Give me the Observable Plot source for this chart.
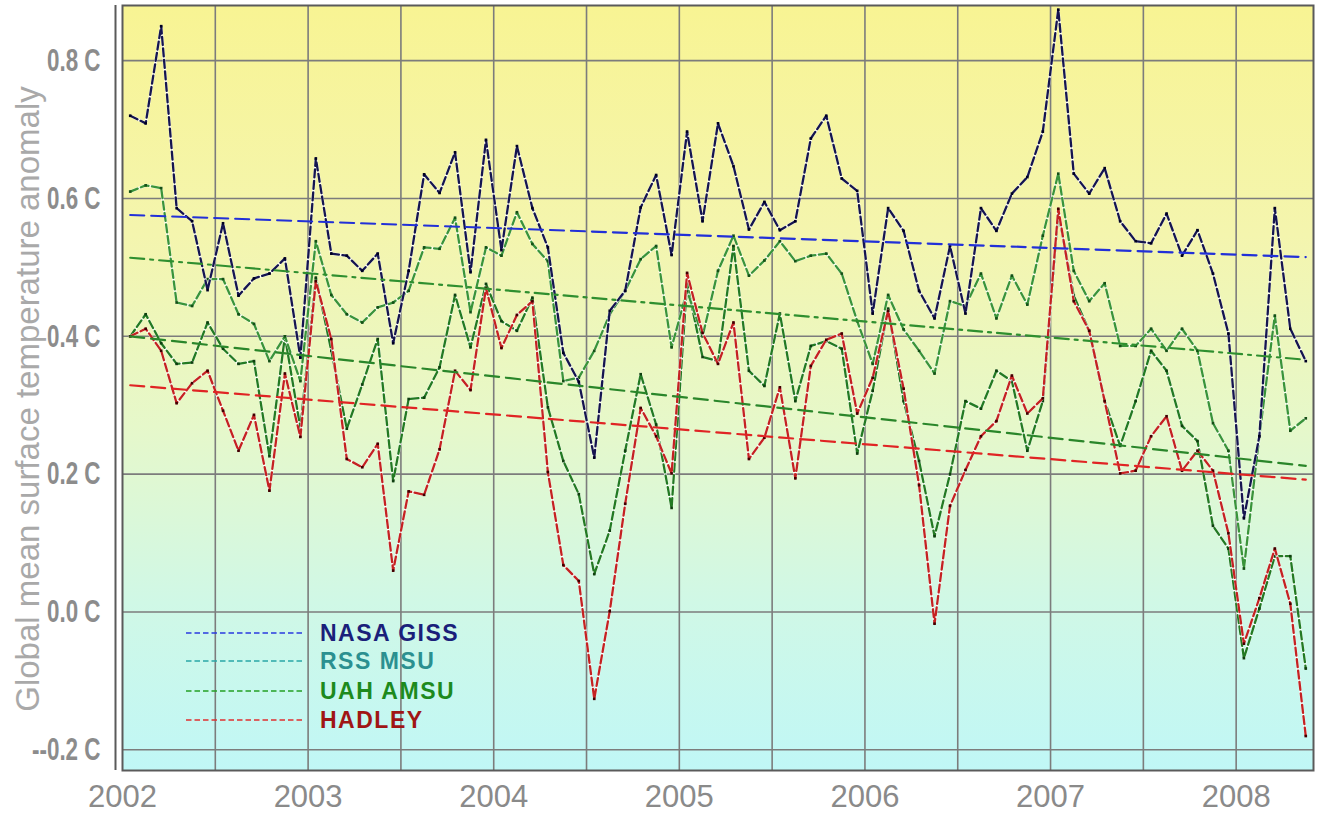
<!DOCTYPE html>
<html><head><meta charset="utf-8">
<script src="https://cdn.jsdelivr.net/npm/d3@7"></script>
<script src="https://cdn.jsdelivr.net/npm/@observablehq/plot@0.6"></script>
<style>
html,body{margin:0;padding:0;background:#fff;}
#wrap{position:relative;width:1318px;height:814px;overflow:hidden;}
#ytitle{position:absolute;left:28px;top:399px;transform:translate(-50%,-50%) rotate(-90deg);font:33px "Liberation Sans",Arial,sans-serif;color:#a9a9a9;white-space:nowrap;}
#legend{position:absolute;left:0;top:0;}
</style></head><body><div id="wrap"><div id="ytitle">Global mean surface temperature anomaly</div></div>
<script>
// Monthly anomalies, Jan 2002 – May 2008 (77 months)
const nasaGiss = [0.72,0.709,0.85,0.586,0.567,0.467,0.564,0.459,0.484,0.491,0.513,0.369,
  0.658,0.52,0.517,0.495,0.52,0.39,0.495,0.635,0.608,0.667,0.493,0.685,
  0.525,0.676,0.586,0.529,0.376,0.334,0.224,0.437,0.466,0.587,0.634,0.518,
  0.697,0.567,0.709,0.647,0.555,0.595,0.554,0.567,0.687,0.72,0.629,0.611,
  0.433,0.586,0.553,0.466,0.426,0.531,0.433,0.586,0.553,0.607,0.631,0.697,
  0.874,0.636,0.607,0.644,0.567,0.538,0.535,0.578,0.517,0.554,0.491,0.404,
  0.136,0.255,0.586,0.411,0.364];
const rssMsu = [0.61,0.619,0.615,0.449,0.444,0.483,0.483,0.432,0.418,0.364,0.40,0.335,
  0.538,0.46,0.432,0.42,0.442,0.449,0.466,0.529,0.527,0.572,0.435,0.529,
  0.517,0.58,0.534,0.509,0.335,0.34,0.379,0.432,0.466,0.512,0.531,0.384,
  0.466,0.40,0.495,0.546,0.488,0.51,0.538,0.509,0.517,0.52,0.491,0.422,
  0.36,0.46,0.41,0.379,0.346,0.451,0.444,0.491,0.426,0.488,0.446,0.546,
  0.636,0.495,0.451,0.477,0.386,0.386,0.411,0.379,0.411,0.379,0.274,0.234,
  0.063,0.255,0.43,0.263,0.281];
const uahAmsu = [0.40,0.432,0.39,0.36,0.362,0.42,0.382,0.36,0.364,0.226,0.40,0.267,
  0.485,0.379,0.266,0.33,0.396,0.19,0.309,0.311,0.355,0.46,0.384,0.476,
  0.422,0.408,0.456,0.297,0.219,0.171,0.055,0.118,0.234,0.345,0.272,0.151,
  0.476,0.37,0.364,0.531,0.35,0.328,0.433,0.306,0.386,0.393,0.382,0.23,
  0.321,0.44,0.306,0.219,0.11,0.2,0.306,0.295,0.35,0.335,0.234,0.306,
  0.58,0.459,0.408,0.306,0.241,0.306,0.379,0.35,0.27,0.248,0.125,0.092,
  -0.067,0.005,0.081,0.081,-0.082];
const hadley = [0.40,0.411,0.379,0.303,0.332,0.35,0.292,0.234,0.286,0.176,0.346,0.254,
  0.48,0.396,0.222,0.21,0.244,0.06,0.175,0.17,0.236,0.35,0.322,0.47,
  0.383,0.431,0.451,0.203,0.068,0.045,-0.126,0.001,0.157,0.296,0.255,0.201,
  0.492,0.405,0.36,0.42,0.222,0.253,0.326,0.194,0.357,0.395,0.404,0.288,
  0.34,0.437,0.324,0.184,-0.017,0.154,0.206,0.255,0.277,0.343,0.288,0.31,
  0.585,0.451,0.408,0.306,0.201,0.205,0.255,0.284,0.205,0.234,0.205,0.114,
  -0.046,0.02,0.092,0.012,-0.18];

// Linear trend end points (first month, last month)
const trendNasa = [0.576, 0.515];
const trendRss = [0.514, 0.366];
const trendUah = [0.40, 0.212];
const trendHadley = [0.329, 0.192];

const seriesNames = ["NASA GISS", "RSS MSU", "UAH AMSU", "HADLEY"];
const yearTicks = [2002, 2003, 2004, 2005, 2006, 2007, 2008];
const halfYearGrid = [2002.5, 2003, 2003.5, 2004, 2004.5, 2005, 2005.5, 2006, 2006.5, 2007, 2007.5, 2008];
const yTicks = [-0.2, 0, 0.2, 0.4, 0.6, 0.8];
const yLabels = ["--0.2 C", "0.0 C", "0.2 C", "0.4 C", "0.6 C", "0.8 C"];

const nMonths = nasaGiss.length;
const months = d3.range(nMonths).map(i => 2002 + (i + 0.5) / 12);
const xDomain = [2002, 2002 + nMonths / 12];

const styles = {
  "NASA GISS": {line: "#15154f", dot: "#000020", trend: "#2230d8", trendDash: "14,7", legendLine: "#2a3ae0", legendText: "#1b1f7a"},
  "RSS MSU":   {line: "#3a943a", dot: "#155015", trend: "#2f8f2f", trendDash: "14,6,3,6", legendLine: "#2aa6a6", legendText: "#2b9090"},
  "UAH AMSU":  {line: "#237a23", dot: "#0f3f0f", trend: "#2a862a", trendDash: "14,7", legendLine: "#25a025", legendText: "#1d8a1d"},
  "HADLEY":    {line: "#c42222", dot: "#400000", trend: "#e02424", trendDash: "14,7", legendLine: "#e03030", legendText: "#a01515"}
};
const values = {"NASA GISS": nasaGiss, "RSS MSU": rssMsu, "UAH AMSU": uahAmsu, "HADLEY": hadley};
const trends = {"NASA GISS": trendNasa, "RSS MSU": trendRss, "UAH AMSU": trendUah, "HADLEY": trendHadley};

const rows = name => values[name].map((v, i) => ({month: months[i], value: v}));
const trendRows = name => [{month: months[0], value: trends[name][0]}, {month: months[nMonths - 1], value: trends[name][1]}];

const drawOrder = ["UAH AMSU", "RSS MSU", "HADLEY", "NASA GISS"];
const seriesMarks = drawOrder.flatMap(name => [
  Plot.line(rows(name), {x: "month", y: "value", stroke: "#ffffff", strokeWidth: 2.8, strokeOpacity: 0.85}),
  Plot.line(rows(name), {x: "month", y: "value", stroke: styles[name].line, strokeWidth: 2.3, strokeDasharray: "8,3.5"}),
  Plot.dot(rows(name), {x: "month", y: "value", symbol: "square", r: 1.5, fill: styles[name].dot})
]);
const trendMarks = seriesNames.map(name =>
  Plot.line(trendRows(name), {x: "month", y: "value", stroke: styles[name].trend, strokeWidth: 2.2, strokeDasharray: styles[name].trendDash})
);

const chart = Plot.plot({
  width: 1318, height: 814,
  marginLeft: 122, marginRight: 5, marginTop: 5, marginBottom: 44,
  x: {domain: xDomain},
  y: {domain: [-0.23, 0.88]},
  style: {background: "#ffffff", overflow: "visible"},
  marks: [
    Plot.frame({fill: "url(#bg)"}),
    Plot.ruleX(halfYearGrid, {stroke: "#7c7c7c", strokeWidth: 1.6}),
    Plot.ruleY(yTicks, {stroke: "#7c7c7c", strokeWidth: 1.6}),
    ...seriesMarks,
    ...trendMarks,
    Plot.frame({stroke: "#5a5a5a", strokeWidth: 2}),
    Plot.ruleX([xDomain[0]], {dx: -7, stroke: "#5a5a5a", strokeWidth: 2}),
    Plot.axisX({ticks: yearTicks, tickFormat: d => String(d), tickSize: 0, tickPadding: 14, fontSize: 31, fill: "#8a8a8a", label: null, fontFamily: '"Liberation Sans",Arial,sans-serif'}),
    Plot.axisY({ticks: yTicks, tickFormat: d => yLabels[yTicks.indexOf(d)], tickSize: 0, tickPadding: 22, fontSize: 32, fontWeight: "bold", fill: "#8c8c8c", label: null, fontFamily: '"Liberation Sans",Arial,sans-serif'})
  ]
});

// gradient background definition
const ns = "http://www.w3.org/2000/svg";
const defs = document.createElementNS(ns, "defs");
const grad = document.createElementNS(ns, "linearGradient");
grad.setAttribute("id", "bg");
grad.setAttribute("x1", "0"); grad.setAttribute("y1", "0");
grad.setAttribute("x2", "0"); grad.setAttribute("y2", "1");
[[0, "#f8f493"], [0.3, "#f4f5ae"], [0.55, "#e6f8ca"], [0.78, "#d0f8e6"], [1, "#c0f7f6"]].forEach(([o, c]) => {
  const s = document.createElementNS(ns, "stop");
  s.setAttribute("offset", o); s.setAttribute("stop-color", c);
  grad.appendChild(s);
});
defs.appendChild(grad);
chart.insertBefore(defs, chart.firstChild);

const wrap = document.getElementById("wrap");
wrap.insertBefore(chart, wrap.firstChild);

// narrow the y tick labels (condensed look of the original)
chart.querySelectorAll('g[aria-label="y-axis tick label"] text').forEach(t => {
  const len = t.getComputedTextLength();
  t.setAttribute("textLength", (len * 0.7).toFixed(1));
  t.setAttribute("lengthAdjust", "spacingAndGlyphs");
});

// legend overlay
const leg = d3.select(wrap).append("svg").attr("id", "legend").attr("width", 1318).attr("height", 814);
const legendY = [633, 661, 691, 720];
seriesNames.forEach((name, i) => {
  leg.append("line").attr("x1", 186).attr("x2", 303).attr("y1", legendY[i]).attr("y2", legendY[i])
    .attr("stroke", styles[name].legendLine).attr("stroke-width", 1.6).attr("stroke-dasharray", "5.5,3");
  leg.append("text").attr("x", 320).attr("y", legendY[i]).attr("dy", "0.36em")
    .attr("fill", styles[name].legendText).attr("font-family", '"Liberation Sans",Arial,sans-serif')
    .attr("font-weight", "bold").attr("font-size", 23).attr("letter-spacing", "1.5px").text(name);
});
</script></body></html>
